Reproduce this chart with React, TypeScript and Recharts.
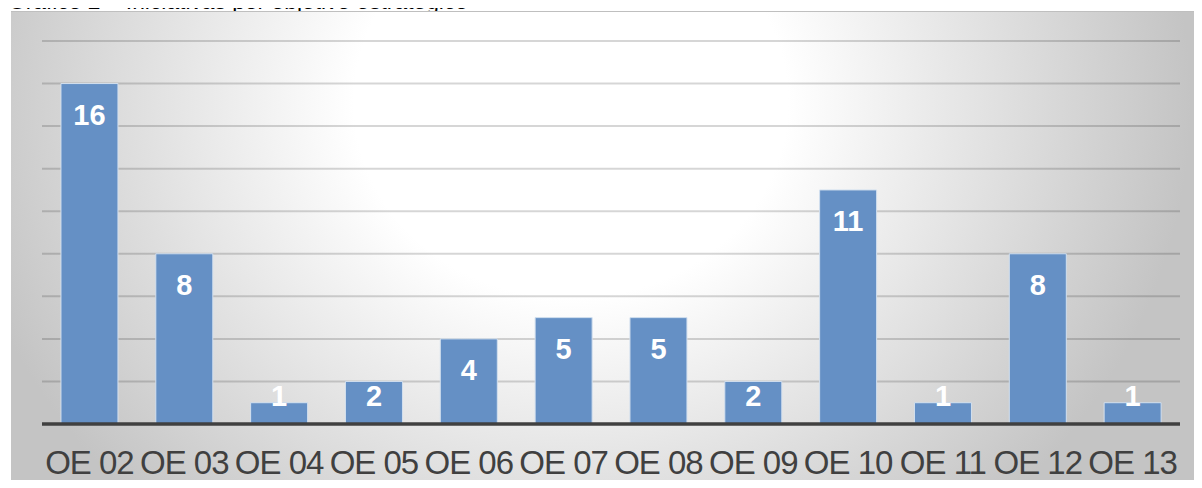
import React from "react";
import { BarChart, Bar, XAxis, YAxis, CartesianGrid, LabelList } from "recharts";

const categories = ["OE 02", "OE 03", "OE 04", "OE 05", "OE 06", "OE 07", "OE 08", "OE 09", "OE 10", "OE 11", "OE 12", "OE 13"];
const values = [16, 8, 1, 2, 4, 5, 5, 2, 11, 1, 8, 1];
const yTicks = [0, 2, 4, 6, 8, 10, 12, 14, 16, 18];
const title = "Gráfico 2 – Iniciativas por objetivo estratégico";

const data = categories.map((c, i) => ({ name: c, value: values[i] }));

const renderLabel = (props: any) => {
  const { x, y, width, height, value } = props;
  const cx = Number(x) + Number(width) / 2;
  const top = Number(y);
  const bottom = Number(y) + Number(height);
  const cy = Math.min(top + 31, bottom - 28);
  return (
    <text
      x={cx}
      y={cy}
      dy={10}
      textAnchor="middle"
      fill="#ffffff"
      fontSize={29}
      fontWeight="bold"
      fontFamily="'Liberation Sans', Arial, sans-serif"
    >
      {value}
    </text>
  );
};

export default function App() {
  return (
    <div style={{ position: "relative", width: 1202, height: 488, margin: -8, overflow: "hidden", background: "#ffffff" }}>
      <svg style={{ position: "absolute", left: 0, top: 0 }} width={600} height={11}>
        <text x={8} y={9} fontSize={22.8} fill="#000000" fontFamily="'Liberation Sans', Arial, sans-serif">
          {title}
        </text>
      </svg>
      <div
        style={{
          position: "absolute",
          left: 11,
          top: 11,
          width: 1191,
          height: 476,
          borderTop: "1px solid #bfbfbf",
          background: "radial-gradient(ellipse 620px 560px at 560px 90px, #ffffff 0%, #ffffff 35%, #c4c4c4 100%)",
          overflow: "hidden",
        }}
      >
        <BarChart
          width={1191}
          height={476}
          data={data}
          margin={{ top: 29, right: 22, bottom: 34, left: 31 }}
          barCategoryGap="20%"
        >
          <CartesianGrid vertical={false} stroke="rgba(0,0,0,0.16)" strokeWidth={2} />
          <YAxis hide domain={[0, 18]} ticks={yTicks} />
          <XAxis
            dataKey="name"
            height={30}
            axisLine={{ stroke: "#404040", strokeWidth: 3.5 }}
            tickLine={false}
            tickMargin={21}
            interval={0}
            tick={{ fontSize: 33, fill: "#404040", fontFamily: "'Liberation Sans', Arial, sans-serif", letterSpacing: -1 }}
          />
          <Bar dataKey="value" fill="#6590c5" stroke="#d3e0ef" strokeWidth={1} isAnimationActive={false}>
            <LabelList dataKey="value" content={renderLabel} />
          </Bar>
        </BarChart>
      </div>
    </div>
  );
}
